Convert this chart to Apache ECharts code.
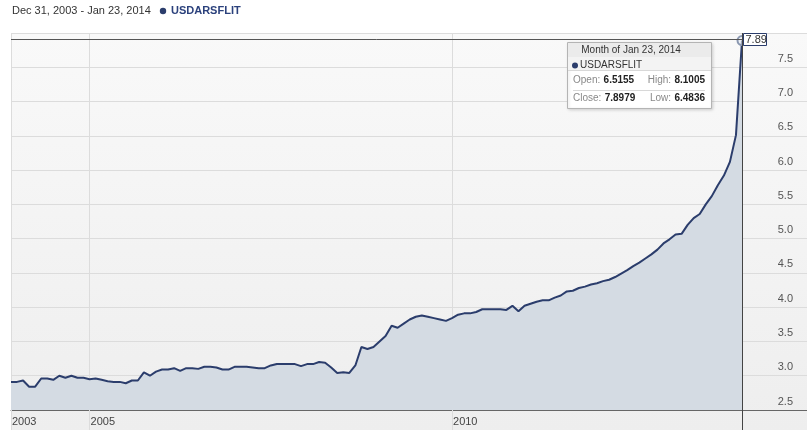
<!DOCTYPE html>
<html><head><meta charset="utf-8">
<script src="https://cdn.jsdelivr.net/npm/echarts/dist/echarts.min.js"></script>
<style>html,body{margin:0;padding:0;background:#fff}#c{width:807px;height:430px}</style>
</head><body><div id="c"></div>
<script>
// ---- data ----
const seriesName = 'USDARSFLIT';
const dateRange = 'Dec 31, 2003 - Jan 23, 2014';
const startYear = 2003, startMonth = 12, monthCount = 122;
const xTickMonths = ['2003-12', '2005-01', '2010-01'];
const yMin = 2.5, yMax = 8.0, yStep = 0.5;
const values = [
  2.91, 2.91, 2.93, 2.84, 2.84, 2.96, 2.96, 2.94, 3.00, 2.97,
  3.00, 2.97, 2.97, 2.95, 2.96, 2.94, 2.92, 2.91, 2.91, 2.89,
  2.93, 2.93, 3.05, 3.00, 3.06, 3.09, 3.09, 3.11, 3.07, 3.11,
  3.11, 3.10, 3.13, 3.13, 3.12, 3.09, 3.09, 3.13, 3.13, 3.13,
  3.12, 3.11, 3.11, 3.15, 3.17, 3.17, 3.17, 3.17, 3.14, 3.17,
  3.17, 3.20, 3.19, 3.12, 3.04, 3.05, 3.04, 3.15, 3.42, 3.39,
  3.42, 3.50, 3.58, 3.73, 3.70, 3.76, 3.82, 3.86, 3.88, 3.86,
  3.84, 3.82, 3.80, 3.84, 3.89, 3.91, 3.91, 3.93, 3.97, 3.97,
  3.97, 3.97, 3.96, 4.02, 3.94, 4.02, 4.05, 4.08, 4.10, 4.10,
  4.14, 4.17, 4.23, 4.24, 4.28, 4.30, 4.33, 4.35, 4.38, 4.40,
  4.44, 4.49, 4.54, 4.60, 4.65, 4.71, 4.77, 4.84, 4.93, 4.99,
  5.06, 5.07, 5.20, 5.30, 5.36, 5.50, 5.62, 5.78, 5.92, 6.12,
  6.51, 7.89
];
const tipTitle = 'Month of Jan 23, 2014';
const tipLabels = ['Open:', 'High:', 'Close:', 'Low:'];
const tipValues = ['6.5155', '8.1005', '7.8979', '6.4836'];
const lastLabel = '7.89';

const categories = [];
for (let i = 0; i < monthCount; i++) {
  const m0 = startMonth - 1 + i;
  const y = startYear + Math.floor(m0 / 12);
  const m = (m0 % 12) + 1;
  categories.push(y + '-' + (m < 10 ? '0' + m : m));
}
const isTick = (idx) => xTickMonths.indexOf(categories[idx]) >= 0;

const FONT = "'Liberation Sans', Arial, sans-serif";
const NAVY = '#2b3d6c';
const chart = echarts.init(document.getElementById('c'), null, {renderer: 'canvas'});

chart.setOption({
  animation: false,
  backgroundColor: '#ffffff',
  textStyle: {fontFamily: FONT},
  grid: [
    {left: 11, right: 65, top: 33, bottom: 20},
    {left: 11, right: 0, top: 33, bottom: 20}
  ],
  xAxis: [
    {
      type: 'category', gridIndex: 0, data: categories, boundaryGap: false,
      axisLine: {show: false},
      axisTick: {show: true, interval: (i) => isTick(i), length: 20, lineStyle: {color: '#dcdcdc'}},
      axisLabel: {
        interval: (i) => isTick(i), formatter: (v) => v.slice(0, 4),
        align: 'left', margin: 6, color: '#444', fontSize: 11, fontFamily: FONT, padding: [0,0,0,1]
      },
      splitLine: {show: true, interval: (i) => isTick(i), lineStyle: {color: '#dcdcdc'}}
    },
    {
      type: 'value', gridIndex: 1, min: 0, max: 1,
      axisLine: {show: true, lineStyle: {color: '#666', width: 1}},
      axisTick: {show: false}, axisLabel: {show: false}, splitLine: {show: false}
    }
  ],
  yAxis: [
    {type: 'value', gridIndex: 0, min: yMin, max: yMax, interval: yStep, show: false, splitLine: {show: false}},
    {
      type: 'value', gridIndex: 1, position: 'right', min: yMin, max: yMax, interval: yStep,
      axisLine: {show: false}, axisTick: {show: false},
      axisLabel: {
        inside: true, margin: 14, color: '#555', fontSize: 11, fontFamily: FONT,
        verticalAlign: 'bottom', padding: [0,0,3,0],
        formatter: (v) => (v > yMax - 0.01 ? '' : v.toFixed(1))
      },
      splitLine: {show: true, lineStyle: {color: '#dcdcdc'}}
    }
  ],
  series: [{
    name: seriesName, type: 'line', xAxisIndex: 0, yAxisIndex: 0,
    data: values, showSymbol: false, smooth: false,
    lineStyle: {color: NAVY, width: 2},
    areaStyle: {color: '#d4dbe3', opacity: 1},
    z: 3,
    markPoint: {
      symbol: 'circle', symbolSize: 9, silent: true, label: {show: false},
      itemStyle: {color: 'rgba(230,235,242,0.6)', borderColor: '#8a97b0', borderWidth: 2},
      data: [{coord: [categories.length - 1, values[values.length - 1]]}]
    }
  }]
});

const lastIdx = values.length - 1;
const p = chart.convertToPixel({xAxisIndex: 0, yAxisIndex: 0}, [lastIdx, values[lastIdx]]);
const pTop = chart.convertToPixel({xAxisIndex: 0, yAxisIndex: 0}, [0, yMax]);
const W = 807, H = 430;
const cx = Math.round(p[0]) + 0.5;
const cy = Math.round(p[1]) - 2 + 0.5;

const tx = 567, ty = 42, tw = 144, th = 66;
const els = [
  {type: 'rect', id: 'bg', z: -100, silent: true,
   shape: {x: pTop[0], y: pTop[1], width: W - pTop[0], height: H - pTop[1]},
   style: {fill: new echarts.graphic.LinearGradient(0, 0, 0, 1, [{offset: 0, color: '#f9f9f9'}, {offset: 1, color: '#eeeeee'}])}},
  // header
  {type: 'text', id: 'hdr', z: 50,
   style: {x: 12, y: 11, text: dateRange, font: '11px ' + FONT, fill: '#333', verticalAlign: 'middle'}},
  {type: 'circle', id: 'hdot', z: 50, shape: {cx: 163, cy: 11, r: 3.2}, style: {fill: NAVY}},
  {type: 'text', id: 'hname', z: 50,
   style: {x: 171, y: 11, text: seriesName, font: 'bold 11px ' + FONT, fill: '#2b417c', verticalAlign: 'middle'}},
  // crosshair
  {type: 'line', id: 'chv', z: 60, shape: {x1: cx, y1: pTop[1], x2: cx, y2: H}, style: {stroke: '#444', lineWidth: 1}},
  {type: 'line', id: 'chh', z: 60, shape: {x1: pTop[0], y1: cy, x2: cx, y2: cy}, style: {stroke: '#555', lineWidth: 1}},
  {type: 'rect', id: 'lbox', z: 70, shape: {x: cx + 1, y: pTop[1] + 0.5, width: 23, height: 12}, style: {fill: '#fff', stroke: NAVY, lineWidth: 1}},
  {type: 'text', id: 'ltxt', z: 71, style: {x: cx + 3, y: pTop[1] + 7, text: lastLabel, font: '11px ' + FONT, fill: '#333', verticalAlign: 'middle'}},
  // tooltip
  {type: 'rect', id: 'tbox', z: 80, shape: {x: tx + 0.5, y: ty + 0.5, width: tw, height: th},
   style: {fill: '#fff', stroke: '#b4b4b4', lineWidth: 1, shadowBlur: 3, shadowColor: 'rgba(0,0,0,0.15)', shadowOffsetX: 1, shadowOffsetY: 1}},
  {type: 'rect', id: 'thead', z: 81, shape: {x: tx + 1, y: ty + 1, width: tw - 1, height: 14}, style: {fill: '#ebebeb'}},
  {type: 'text', id: 'ttitle', z: 82, style: {x: tx + tw / 2 - 8, y: ty + 8, text: tipTitle, font: '10px ' + FONT, fill: '#333', align: 'center', verticalAlign: 'middle'}},
  {type: 'rect', id: 'tname', z: 81, shape: {x: tx + 1, y: ty + 15, width: tw - 1, height: 13}, style: {fill: '#f3f3f3'}},
  {type: 'line', id: 'tsep0', z: 82, shape: {x1: tx + 1, y1: ty + 28.5, x2: tx + tw, y2: ty + 28.5}, style: {stroke: '#d8d8d8'}},
  {type: 'circle', id: 'tdot', z: 82, shape: {cx: tx + 8, cy: ty + 23.5, r: 3}, style: {fill: NAVY}},
  {type: 'text', id: 'tnm', z: 82, style: {x: tx + 13, y: ty + 23.5, text: seriesName, font: '10px ' + FONT, fill: '#333', verticalAlign: 'middle'}},
  {type: 'line', id: 'tsep1', z: 82, shape: {x1: tx + 6, y1: ty + 48.5, x2: tx + tw - 6, y2: ty + 48.5}, style: {stroke: '#d8d8d8'}}
];
const rows = [ty + 38.5, ty + 56];
for (let r = 0; r < 2; r++) {
  els.push({type: 'text', id: 'tl' + r, z: 82, style: {
    x: tx + 6, y: rows[r], verticalAlign: 'middle',
    text: '{l|' + tipLabels[r * 2] + '} {v|' + tipValues[r * 2] + '}',
    rich: {l: {font: '10px ' + FONT, fill: '#888'}, v: {font: 'bold 10px ' + FONT, fill: '#222'}}
  }});
  els.push({type: 'text', id: 'tr' + r, z: 82, style: {
    x: tx + tw - 6, y: rows[r], verticalAlign: 'middle', align: 'right',
    text: '{l|' + tipLabels[r * 2 + 1] + '} {v|' + tipValues[r * 2 + 1] + '}',
    rich: {l: {font: '10px ' + FONT, fill: '#888'}, v: {font: 'bold 10px ' + FONT, fill: '#222'}}
  }});
}
chart.setOption({graphic: {elements: els}});
</script>
</body></html>
